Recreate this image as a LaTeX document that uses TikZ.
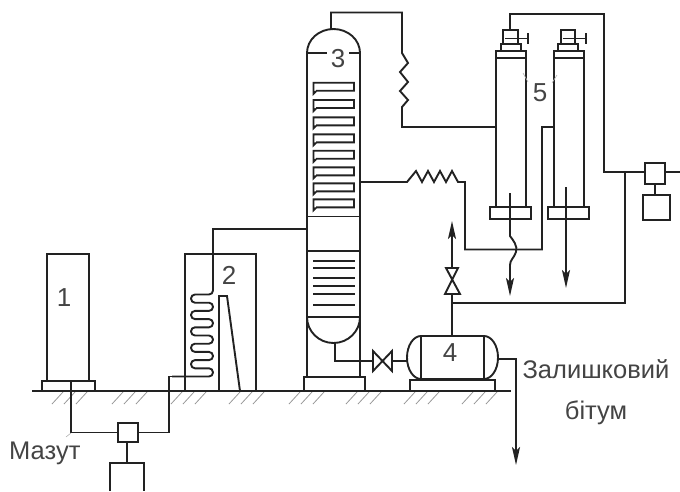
\documentclass[tikz,border=0pt]{standalone}
\usepackage{fontspec}
\setmainfont{Liberation Sans}
\usetikzlibrary{arrows.meta}
\definecolor{ink}{HTML}{222222}
\definecolor{txt}{HTML}{444444}
\tikzset{
  pipe/.style={draw=ink,line width=1.9pt,line join=miter},
  flow/.style={pipe,-{Stealth[length=18pt,width=8pt,inset=4pt]}},
  box/.style={draw=ink,line width=1.9pt,fill=white,inner sep=0pt,outer sep=0pt,minimum width=#1},
  hatchline/.style={draw=gray!80,line width=0.8pt},
  lead/.style={draw=gray!60,line width=0.6pt},
  num/.style={text=txt,font=\fontsize{26}{30}\selectfont,inner sep=0pt},
  captext/.style={text=txt,font=\fontsize{25.5}{30}\selectfont,inner sep=0pt},
}
\begin{document}
\begin{tikzpicture}[x=1pt,y=-1pt]
\useasboundingbox (0,0) rectangle (680,491);
% ground and hatching
\coordinate (gl) at (32,391); \coordinate (gr) at (511,391);
\foreach \g in {63,123,182,240,300,357,415,473}{
  \foreach \d in {0,12,24}{
    \draw[hatchline] (\g+\d,392) -- (\g+\d-11,404);
  }
}
\draw[pipe] (gl) -- (gr);
% tank 1
\node[box=42,minimum height=127,anchor=south] (tank) at (68,381) {};
\node[box=53,minimum height=10,anchor=south] (tankbase) at (68.5,391) {};
\node[num] (n1) at (64,298) {1};
% pump at the feed
\node[box=20,minimum height=19] (feedpump) at (128,432.5) {};
\coordinate (feedin) at (71,381);
\draw[pipe] (feedin) |- (feedpump.west);
\draw[lead] (71,433) -- (66,437);
\node[captext,anchor=west] (mazut) at (9,453) {Мазут};
\draw[pipe] (110,491) -- (110,463) -- (144,463) -- (144,491);
\coordinate (feedmotor) at (127,463);
\draw[pipe] (feedpump.south -| feedmotor) -- (feedmotor);
% furnace 2
\draw[pipe] (185,391) -- (185,254) -- (256,254) -- (256,391);
\draw[pipe] (219,391) -- (219,296) -- (227,296) -- (240,391);
\coordinate (coilin) at (172,376.5);
\coordinate (feedturn) at (169,376.5);
\draw[pipe] (feedpump.east) -| (feedturn) -- (coilin);
\draw[pipe,rounded corners=4pt] (coilin) -- (213,376.5) -- (213,368.3) -- (191,368.3) -- (191,360.1) -- (213,360.1) -- (213,351.9) -- (191,351.9) -- (191,343.7) -- (213,343.7) -- (213,335.5) -- (191,335.5) -- (191,327.3) -- (213,327.3) -- (213,319.1) -- (191,319.1) -- (191,310.9) -- (213,310.9) -- (213,302.7) -- (191,302.7) -- (191,294.5) -- (213,294.5) -- (213,285);
\draw[pipe] (213,286) -- (213,229) -- (307,229);
\node[num] (n2) at (229,275) {2};
% column 3
\draw[pipe] (307,53) arc[start angle=180,end angle=0,x radius=26.5pt,y radius=24pt];
\draw[pipe] (307,53) -- (307,377) (360,53) -- (360,377);
\draw[pipe] (307,53) -- (327,53) (349,53) -- (360,53);
\node[num] (n3) at (338,59) {3};
\foreach \t in {82.7,100,117.3,134.3,150.7,167.3,183.3,199.3}{
  \draw[pipe] (316,\t+8) -- (354,\t+8) -- (354,\t) -- (313.5,\t) -- (313.5,\t+11) -- (316,\t+8.5);
}
\draw[pipe] (307,216.5) -- (360,216.5);
\draw[pipe] (307,251) -- (360,251);
\foreach \t in {261,268,278,286,294,305}{
  \draw[pipe] (313,\t) -- (355,\t);
}
\draw[pipe] (307,317) -- (360,317);
\draw[pipe] (307,317) arc[start angle=180,end angle=360,x radius=26.5pt,y radius=26pt];
\node[box=61,minimum height=14,anchor=south] (colbase) at (334.5,391) {};
% overhead to condenser and column A
\coordinate (domeTop) at (331,29);
\coordinate (ovh) at (402,12.5);
\draw[pipe] (domeTop) |- (ovh) -- (402,53) -- (408,63) -- (400,72) -- (408,82) -- (400,91) -- (408,100) -- (402,107) -- (402,127) -- (496,127);
% middle draw with horizontal cooler
\draw[pipe] (360,182) -- (407,182) -- (416,171) -- (422,182) -- (428,171) -- (434,182) -- (440,171) -- (446,182) -- (452,171) -- (458,182) -- (465,182) -- (465,249.5) -- (542,249.5) -- (542,127) -- (554,127);
% strippers 5
\foreach \xa/\xb/\ba/\bb/\ca/\cb/\ua/\ub/\ta/\tb in {496/526/490/531/501/521/503/518/505/528,554/584/548/589/558/578/561/575/563/586}{
  \draw[pipe] (\xa,207) -- (\xa,51) -- (\xb,51) -- (\xb,207);
  \draw[pipe] (\xa,58) -- (\xb,58);
  \draw[pipe,fill=white] (\ba,207) rectangle (\bb,219);
  \draw[pipe,fill=white] (\ca,44) rectangle (\cb,51);
  \draw[pipe,fill=white] (\ua,30) rectangle (\ub,44);
  \draw[pipe] (\ta,38.5) -- (\tb,38.5);
  \draw[pipe] (\tb,33) -- (\tb,44);
}
\node[num] (n5) at (540,93) {5};
\draw[lead] (523,73) -- (528,82);
\draw[lead] (557,75) -- (552,83);
% outlet arrows of the strippers
\draw[pipe] (510,193) -- (510,236) .. controls (513,240) and (518,246) .. (516,252) .. controls (514,258) and (510,260) .. (510,265);
\draw[flow] (510,264) -- (510,296);
\draw[flow] (566,187) -- (566,288);
% vacuum line
\node[box=20,minimum height=21] (vacpump) at (655,173.5) {};
\node[box=27,minimum height=25] (vacmotor) at (656.5,207.5) {};
\draw[pipe] (vacpump.south) -- (vacmotor.north -| vacpump.south);
\coordinate (ovtop) at (510,30);
\coordinate (vacleft) at (604,172);
\coordinate (edge) at (680,172);
\draw[pipe] (ovtop) |- (604,14) -- (vacleft) -- (vacpump.west |- vacleft);
\draw[pipe] (vacpump.east |- edge) -- (edge);
% vessel 4
\draw[pipe] (421,336) arc[start angle=90,end angle=270,x radius=14pt,y radius=21.5pt];
\draw[pipe] (484,336) arc[start angle=90,end angle=-90,x radius=14pt,y radius=21.5pt];
\draw[pipe] (421,336) rectangle (484,379);
\node[box=85,minimum height=11,anchor=south] (vesselbase) at (452.5,391) {};
\node[num] (n4) at (450,353) {4};
% bottoms valve
\coordinate (colout) at (335,343);
\coordinate (valveL) at (373,361);
\coordinate (valveR) at (392,361);
\draw[pipe] (colout) |- (valveL);
\draw[pipe] (373,351) -- (392,371) -- (392,351) -- (373,371) -- cycle;
\draw[pipe] (valveR) -- (407,361);
% vessel top line
\coordinate (vtop) at (452,336);
\coordinate (valveB) at (452,294);
\coordinate (valveT) at (452,268);
\coordinate (tee) at (452,303);
\draw[pipe] (vtop) -- (valveB);
\draw[pipe] (446,268) -- (458,268) -- (445,294) -- (460,294) -- cycle;
\draw[flow] (valveT) -- (452,221);
\draw[pipe] (tee) -- (625,303) -- (625,172);
% residue outlet
\coordinate (resout) at (498,359);
\draw[flow] (resout) -| (516,465);
\node[captext] (res1) at (596,369) {Залишковий};
\node[captext] (res2) at (596,413) {бітум};
\end{tikzpicture}
\end{document}
